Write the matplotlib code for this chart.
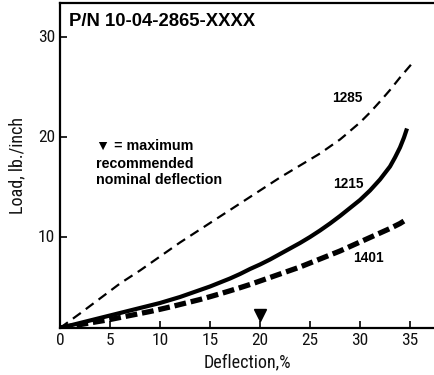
import matplotlib
matplotlib.use("Agg")
import matplotlib.pyplot as plt

# ---- data ----
x_1285 = [0, 2, 4, 6, 8, 10, 12, 14, 16, 18, 20, 22, 24, 26, 27, 28, 28.6, 29, 30, 31, 32, 33, 34, 35.2]
y_1285 = [0.85, 2.3, 3.8, 5.3, 6.6, 8.0, 9.4, 10.7, 12.0, 13.3, 14.6, 15.9, 17.1, 18.3, 19.0, 19.7, 20.2,
          20.55, 21.4, 22.4, 23.5, 24.65, 25.9, 27.3]

x_1215 = [0, 1, 2, 3, 4, 5, 6, 7, 8, 9, 10, 11, 12, 13, 14, 15, 16, 17, 18, 19, 20, 21, 22, 23, 24, 25,
          26, 27, 28, 29, 30, 31, 32, 33, 33.5, 34, 34.4, 34.7]
y_1215 = [0.85, 1.1, 1.35, 1.6, 1.85, 2.1, 2.35, 2.6, 2.85, 3.1, 3.35, 3.65, 3.95, 4.3, 4.65, 5.0, 5.4,
          5.8, 6.25, 6.75, 7.2, 7.7, 8.25, 8.8, 9.35, 9.95, 10.6, 11.3, 12.05, 12.85, 13.65, 14.6, 15.7,
          17.0, 17.9, 18.9, 19.9, 20.8]

x_1401 = [0, 1, 2, 3, 4, 5, 6, 7, 8, 9, 10, 11, 12, 13, 14, 15, 16, 17, 18, 19, 20, 21, 22, 23, 24, 25,
          26, 27, 28, 29, 30, 31, 32, 33, 34, 34.8]
y_1401 = [0.85, 1.02, 1.19, 1.36, 1.53, 1.7, 1.9, 2.1, 2.3, 2.5, 2.72, 2.95, 3.2, 3.45, 3.7, 3.98, 4.27,
          4.57, 4.88, 5.2, 5.55, 5.9, 6.25, 6.6, 6.95, 7.35, 7.75, 8.15, 8.55, 9.0, 9.45, 9.9, 10.35,
          10.8, 11.3, 11.8]

series_names = ["1285", "1215", "1401"]
x_ticks = [0, 5, 10, 15, 20, 25, 30, 35]
y_ticks = [10, 20, 30]
marker_x = [20]
marker_y = [2.2]

title = "P/N 10-04-2865-XXXX"
note_lines = ["\u25BC = maximum", "recommended", "nominal deflection"]

narrow = ['Roboto Condensed', 'DejaVu Sans']
bold = dict(family=['Liberation Sans', 'DejaVu Sans'], fontweight='bold', color='black')

plt.rcParams['lines.scale_dashes'] = False

fig = plt.figure(figsize=(4.35, 3.75), dpi=100)
ax = fig.add_axes([60/435, 47/375, 375/435, 325/375])

ax.plot(x_1285, y_1285, color='black', lw=1.6, dashes=(7, 4.5), dash_capstyle='butt', dash_joinstyle='round')
ax.plot(x_1215, y_1215, color='black', lw=3.0, solid_capstyle='butt', solid_joinstyle='round')
ax.plot(x_1401, y_1401, color='black', lw=3.8, dashes=(8.5, 3.5), dash_capstyle='butt', dash_joinstyle='round')
ax.plot(marker_x, marker_y, marker='v', color='black', markersize=8, linestyle='none', clip_on=False)

ax.set_xlim(0, 37.5)
ax.set_ylim(0.85, 33.35)

for s in ['left', 'bottom', 'top']:
    ax.spines[s].set_linewidth(1.6)
ax.spines['right'].set_visible(False)

ax.set_xticks(x_ticks)
ax.set_yticks(y_ticks)
ax.tick_params(direction='in', length=5, width=1.2, pad=3.5, labelsize=12.5)
for lab in ax.get_xticklabels() + ax.get_yticklabels():
    lab.set_family(narrow)
    lab.set_color('#111111')

ax.set_xlabel("Deflection,%", fontsize=13, family=narrow, labelpad=4, color='#111111')
ax.set_ylabel("Load, lb./inch", fontsize=13, family=narrow, color='#111111')
ax.yaxis.set_label_coords(-0.09, 0.5)

ax.text(0.024, 0.9425, title, transform=ax.transAxes, fontsize=13.3, va='center', ha='left', **bold)

note_y = [19.07, 17.3, 15.67]
for t, yy in zip(note_lines, note_y):
    ax.text(3.6, yy, t, fontsize=10.3, va='center', ha='left', **bold)

ax.text(28.7, 23.9, series_names[0], fontsize=9.9, ha='center', va='center', **bold)
ax.text(28.8, 15.3, series_names[1], fontsize=9.9, ha='center', va='center', **bold)
ax.text(30.8, 7.9, series_names[2], fontsize=9.9, ha='center', va='center', **bold)

fig.savefig("out.png", dpi=100)
